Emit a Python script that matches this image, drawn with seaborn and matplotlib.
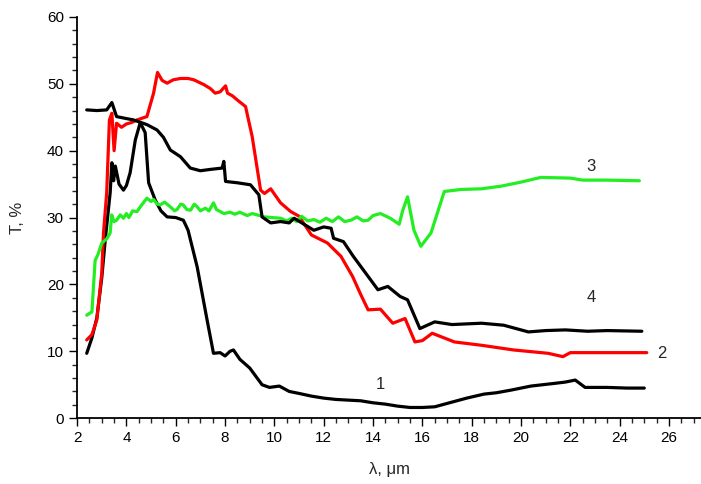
import numpy as np
import matplotlib
matplotlib.use("Agg")
import matplotlib.pyplot as plt
from matplotlib.ticker import MultipleLocator
import seaborn as sns

# Spectra (wavelength in um, transmission in %)
lam1 = [2.39, 2.6, 2.8, 3.0, 3.15, 3.34, 3.41, 3.48, 3.55, 3.7, 3.88, 4.0, 4.15, 4.36, 4.56,
        4.76, 4.9, 5.17, 5.4, 5.65, 6.0, 6.31, 6.5, 6.87, 7.27, 7.53, 7.8, 8.0, 8.2, 8.34,
        8.6, 9.0, 9.5, 9.8, 10.2, 10.6, 11.0, 11.5, 12.0, 12.5, 13.0, 13.5, 14.0, 14.5,
        15.0, 15.5, 16.0, 16.5, 17.0, 17.8, 18.5, 19.0, 19.6, 20.4, 21.35, 21.8, 22.2,
        22.6, 23.5, 24.3, 25.0]
t1 = [9.7, 12.0, 15.0, 21.0, 27.0, 33.7, 38.2, 35.5, 37.7, 35.0, 34.1, 34.8, 36.7, 41.6, 44.2,
      42.7, 35.2, 32.6, 31.0, 30.1, 30.0, 29.6, 28.1, 22.6, 14.7, 9.7, 9.8, 9.3, 10.0, 10.2,
      8.8, 7.5, 5.0, 4.6, 4.8, 4.0, 3.7, 3.3, 3.0, 2.8, 2.7, 2.6, 2.3, 2.1,
      1.8, 1.6, 1.6, 1.7, 2.2, 3.0, 3.6, 3.8, 4.2, 4.8, 5.2, 5.4, 5.7,
      4.6, 4.6, 4.5, 4.5]

lam2 = [2.39, 2.6, 2.8, 3.0, 3.07, 3.2, 3.31, 3.41, 3.5, 3.6, 3.8, 4.0, 4.2, 4.43, 4.83, 5.1,
        5.26, 5.45, 5.65, 5.9, 6.19, 6.5, 6.73, 7.13, 7.4, 7.6, 7.8, 8.02, 8.1, 8.3, 8.49,
        8.83, 9.1, 9.44, 9.6, 9.85, 10.25, 10.66, 11.0, 11.5, 12.15, 12.7, 13.17, 13.5,
        13.8, 14.3, 14.8, 15.3, 15.7, 16.0, 16.4, 17.3, 18.4, 19.7, 21.1, 21.7, 22.0,
        23.5, 25.1]
t2 = [11.7, 12.5, 14.7, 21.7, 27.7, 33.7, 44.6, 45.6, 40.0, 44.1, 43.5, 44.0, 44.2, 44.6, 45.1, 48.6,
      51.7, 50.5, 50.1, 50.6, 50.8, 50.8, 50.6, 49.9, 49.3, 48.6, 48.8, 49.7, 48.6, 48.2, 47.6,
      46.6, 42.1, 34.1, 33.6, 34.3, 32.2, 30.9, 30.2, 27.4, 26.2, 24.2, 21.2, 18.5,
      16.2, 16.3, 14.2, 14.9, 11.4, 11.6, 12.7, 11.4, 10.9, 10.2, 9.7, 9.2, 9.8,
      9.8, 9.8]

lam3 = [2.39, 2.6, 2.73, 2.85, 3.0, 3.2, 3.34, 3.4, 3.5, 3.6, 3.75, 3.88, 4.0, 4.1, 4.25, 4.43,
        4.6, 4.83, 5.0, 5.1, 5.25, 5.37, 5.55, 5.78, 5.95, 6.05, 6.2, 6.3, 6.45, 6.6, 6.75,
        6.87, 7.0, 7.2, 7.35, 7.53, 7.65, 7.95, 8.2, 8.4, 8.6, 8.9, 9.1, 9.3, 9.6, 9.9,
        10.25, 10.5, 10.7, 10.9, 11.1, 11.35, 11.6, 11.85, 12.1, 12.35, 12.6, 12.85, 13.1,
        13.35, 13.6, 13.8, 14.0, 14.3, 14.7, 15.06, 15.2, 15.4, 15.66, 15.94, 16.35,
        16.89, 17.57, 18.4, 19.2, 20.0, 20.8, 22.0, 22.5, 23.5, 24.8]
t3 = [15.4, 15.9, 23.6, 24.5, 26.2, 26.8, 27.7, 30.4, 29.4, 29.6, 30.4, 29.9, 30.6, 30.0, 31.0, 30.9,
      31.8, 32.9, 32.4, 32.7, 32.0, 31.9, 32.3, 31.6, 31.0, 31.2, 32.0, 31.9, 31.2, 31.1, 32.0,
      31.6, 31.0, 31.4, 31.0, 32.2, 31.2, 30.6, 30.8, 30.5, 30.8, 30.3, 30.6, 30.4, 30.1, 30.0,
      29.9, 29.5, 29.9, 29.4, 30.2, 29.5, 29.7, 29.3, 29.9, 29.4, 30.1, 29.4, 29.6,
      30.1, 29.5, 29.6, 30.3, 30.6, 29.9, 29.0, 31.0, 33.1, 28.1, 25.7, 27.7,
      33.9, 34.2, 34.3, 34.7, 35.3, 36.0, 35.9, 35.6, 35.6, 35.5]

lam4 = [2.39, 2.8, 3.2, 3.41, 3.6, 4.0, 4.29, 4.83, 5.24, 5.5, 5.78, 6.19, 6.59, 7.0, 7.4, 7.88,
        7.95, 8.02, 8.5, 9.03, 9.37, 9.5, 9.85, 10.25, 10.6, 10.8, 11.2, 11.6, 12.0, 12.3,
        12.4, 12.8, 13.2, 13.8, 14.2, 14.6, 15.1, 15.4, 15.9, 16.5, 17.2, 18.4, 19.3,
        20.3, 21.0, 21.8, 22.7, 23.5, 24.9]
t4 = [46.1, 46.0, 46.1, 47.2, 45.1, 44.8, 44.6, 43.9, 43.1, 42.0, 40.1, 39.1, 37.4, 37.0, 37.2, 37.4,
      38.4, 35.4, 35.2, 34.9, 33.4, 30.1, 29.2, 29.4, 29.2, 29.9, 29.0, 28.1, 28.6, 28.4,
      26.9, 26.4, 24.2, 21.2, 19.2, 19.7, 18.2, 17.7, 13.4, 14.4, 14.0, 14.2, 13.9,
      12.9, 13.1, 13.2, 13.0, 13.1, 13.0]

curve_names = ["1", "2", "3", "4"]
label_lam = [14.3, 25.7, 22.85, 22.85]
label_t = [5.1, 9.6, 37.7, 18.1]

sns.set_style("ticks")
plt.rcParams["font.family"] = ["Liberation Sans", "DejaVu Sans"]

fig = plt.figure(figsize=(7.01, 4.84), dpi=100)
ax = fig.add_axes([0.11, 0.136, 0.89, 0.829])

lw = 2.3
sns.lineplot(x=lam1, y=t1, ax=ax, color="black", lw=lw, sort=False, estimator=None)
sns.lineplot(x=lam2, y=t2, ax=ax, color="#ff0000", lw=lw, sort=False, estimator=None)
sns.lineplot(x=lam3, y=t3, ax=ax, color="#22ee22", lw=lw, sort=False, estimator=None)
sns.lineplot(x=lam4, y=t4, ax=ax, color="black", lw=lw, sort=False, estimator=None)

for name, lx, ly in zip(curve_names, label_lam, label_t):
    ax.text(lx, ly, name, fontsize=12, ha="center", va="center")

ax.set_xlim(2, 27.3)
ax.set_ylim(0, 60)
ax.xaxis.set_major_locator(MultipleLocator(2))
ax.xaxis.set_minor_locator(MultipleLocator(0.5))
ax.yaxis.set_major_locator(MultipleLocator(10))
ax.yaxis.set_minor_locator(MultipleLocator(2))
ax.tick_params(which="major", direction="out", length=6, width=1.0, labelsize=11, colors="black")
ax.tick_params(which="minor", direction="out", length=3.5, width=1.0)
for s in ["top", "right"]:
    ax.spines[s].set_visible(False)
for s in ["left", "bottom"]:
    ax.spines[s].set_linewidth(1.3)
    ax.spines[s].set_color("black")

ax.set_xlabel("λ, μm", fontsize=12, labelpad=12)
ax.set_ylabel("T, %", fontsize=12, labelpad=16)

fig.savefig("out.png", dpi=100)
